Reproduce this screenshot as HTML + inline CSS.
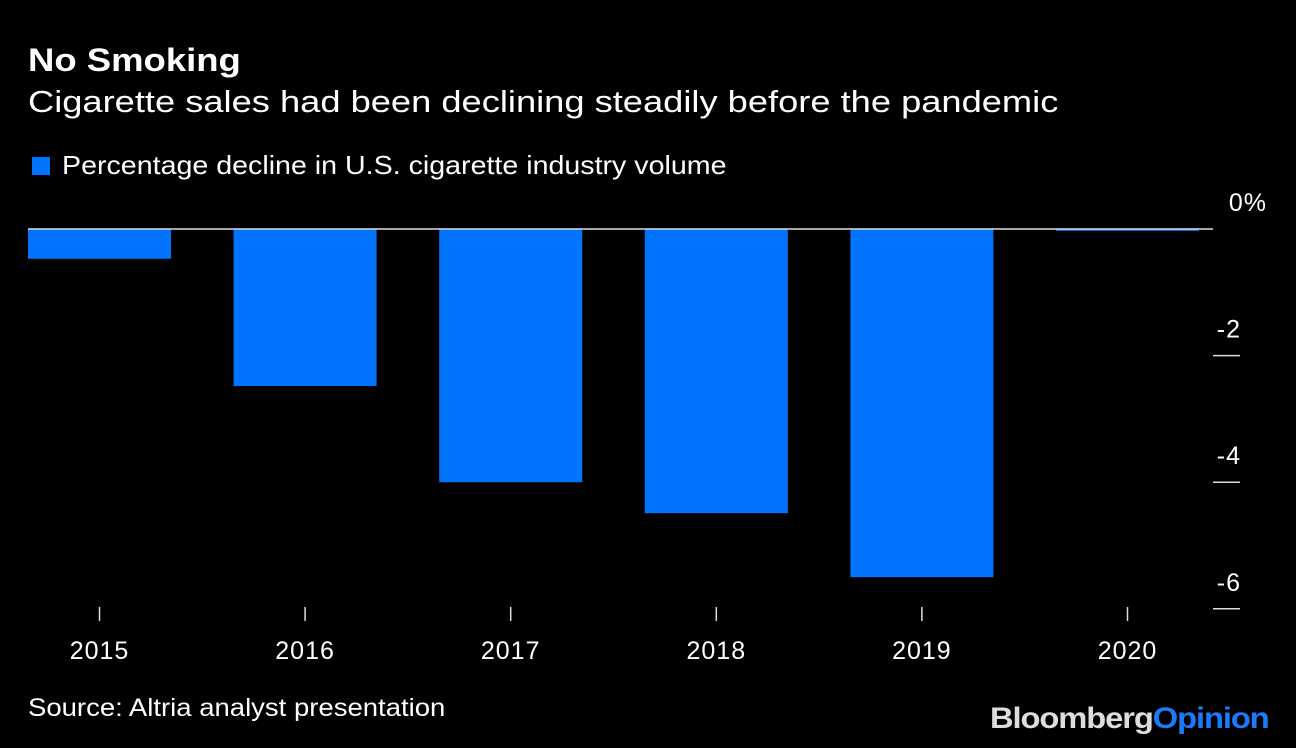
<!DOCTYPE html>
<html><head><meta charset="utf-8"><style>
body{margin:0;background:#000;width:1296px;height:748px;overflow:hidden;font-family:"Liberation Sans",sans-serif;color:#fff}
.t{position:absolute;white-space:nowrap;transform-origin:0 0}
</style></head><body>
<div class="t" style="left:28px;top:42px;font-size:32px;font-weight:bold;transform:scaleX(1.14)">No Smoking</div>
<div class="t" style="left:28px;top:84px;font-size:31px;transform:scaleX(1.17)">Cigarette sales had been declining steadily before the pandemic</div>
<div class="t" style="left:32px;top:150px;font-size:26px"><span style="display:inline-block;width:18px;height:18px;background:#0073ff;margin-right:12px;vertical-align:-1px"></span><span style="display:inline-block;transform:scaleX(1.10);transform-origin:0 0">Percentage decline in U.S. cigarette industry volume</span></div>
<svg id="chart" width="1296" height="748" style="position:absolute;left:0;top:0"></svg>
<div class="t" style="left:28px;top:694px;font-size:25px;transform:scaleX(1.10)">Source: Altria analyst presentation</div>
<div class="t" style="left:990px;top:702px;font-size:30px;font-weight:bold;letter-spacing:-1px;color:#ddd;transform:scaleX(1.09)">Bloomberg<span style="color:#1a7bff">Opinion</span></div>
<script>
const categories=["2015","2016","2017","2018","2019","2020"];
const values=[-0.47,-2.48,-4.0,-4.49,-5.5,-0.03];
const yTicks=[0,-2,-4,-6];
const yTickLabels=["0%","-2","-4","-6"];
const svg=document.getElementById('chart');
const NS="http://www.w3.org/2000/svg";
const y0=229,yScale=63.3;
function y(v){return y0-v*yScale;}
function xc(i){return 99.5+205.6*i;}
function mk(tag,attrs){const e=document.createElementNS(NS,tag);for(const k in attrs)e.setAttribute(k,attrs[k]);svg.appendChild(e);return e;}
values.forEach((v,i)=>{
  const top=Math.min(y(0),y(v)),h=Math.abs(y(v)-y(0));
  const r=mk('rect',{x:xc(i)-71.5,y:top,width:143,height:Math.max(h,1.5),fill:'#0073ff'});
  
  
});
const zl=mk('line',{x1:28,x2:1213,y1:y(0),y2:y(0),stroke:'#ddd','stroke-width':1.5});


yTicks.forEach((t,i)=>{
  if(i>0){const l=mk('line',{x1:1213,x2:1240,y1:y(t),y2:y(t),stroke:'#ddd','stroke-width':1.5});
  
  }
  const tx=mk('text',{x:i==0?1267:1241,y:y(t)-18,'text-anchor':'end',fill:'#fff','font-size':25,'letter-spacing':1,'font-family':'Liberation Sans, sans-serif'});
  tx.textContent=yTickLabels[i];
  
  
});
categories.forEach((c,i)=>{
  const l=mk('line',{x1:xc(i),x2:xc(i),y1:607,y2:621,stroke:'#ddd','stroke-width':1.5});
  
  
  const tx=mk('text',{x:xc(i),y:659,'text-anchor':'middle',fill:'#fff','font-size':25,'letter-spacing':1,'font-family':'Liberation Sans, sans-serif'});
  tx.textContent=c;
  
  
});
</script>
</body></html>
